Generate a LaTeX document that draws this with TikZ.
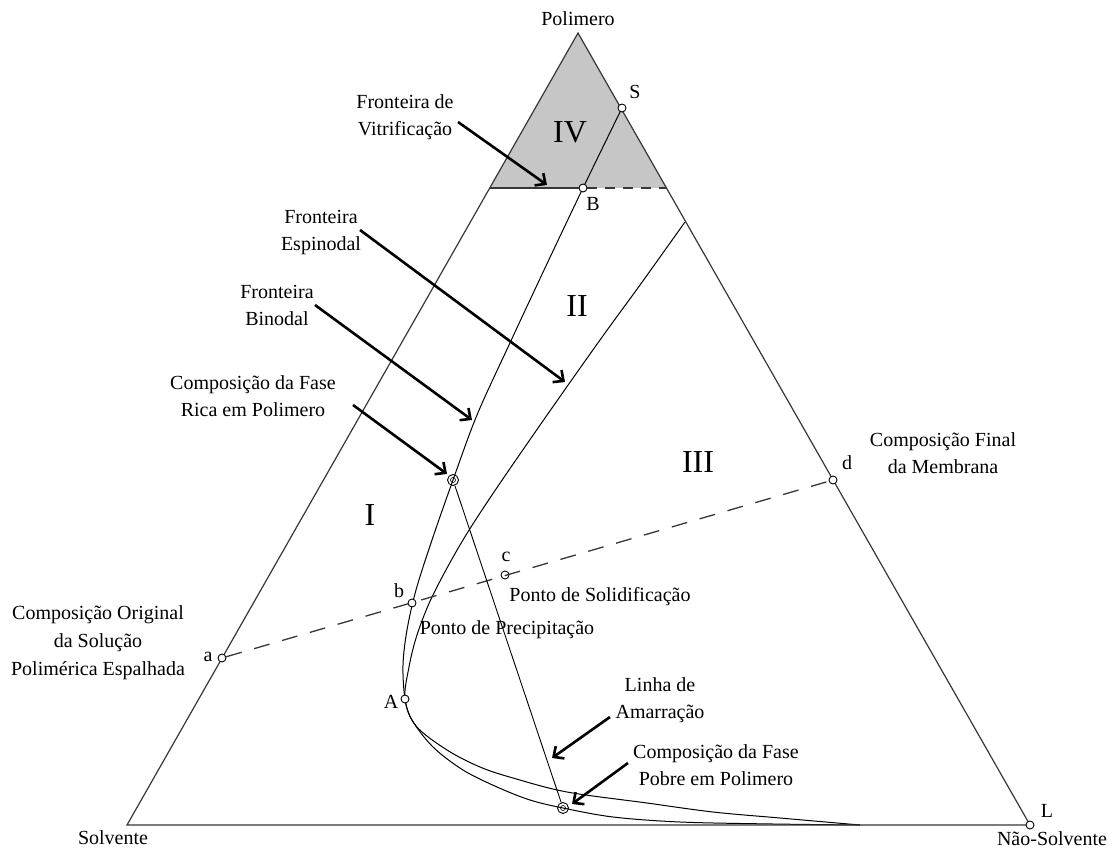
\documentclass[tikz,border=0pt]{standalone}
\usepackage{fontspec}
\setmainfont{Liberation Serif}
\usetikzlibrary{arrows.meta}
\definecolor{edgegray}{RGB}{55,55,55}
\definecolor{glassy}{RGB}{198,198,198}
\begin{document}
\begin{tikzpicture}[x=1pt,y=-1pt,
  side/.style={draw=edgegray, line width=1.2pt},
  curve/.style={draw=black, line width=1pt},
  tieline/.style={draw=black, line width=0.9pt},
  pathline/.style={draw=edgegray, line width=1.3pt, dash pattern=on 16pt off 13pt},
  pointer/.style={draw=black, line width=2.6pt, -{Straight Barb[length=8pt,width=15pt]}},
  lbl/.style={font=\fontsize{20}{27}\selectfont, inner sep=0pt, align=center},
  region/.style={font=\fontsize{32}{36}\selectfont, inner sep=0pt},
  openpt/.style={circle, draw=black, fill=white, line width=0.9pt, minimum size=8pt, inner sep=0pt},
  phasept/.style={circle, draw=black, line width=0.9pt, minimum size=11pt, inner sep=0pt},
  innerpt/.style={circle, draw=black, line width=0.6pt, minimum size=5pt, inner sep=0pt}
]
\useasboundingbox (0,0) rectangle (1116,850);

% vertices of the ternary diagram
\coordinate (Sv) at (127,825);
\coordinate (Ns) at (1030,825);
\coordinate (Po) at (578,33);
\coordinate (gl) at (490,188);
\coordinate (gr) at (667,188);

% glassy region IV
\fill[glassy] (Po) -- (gl) -- (gr) -- cycle;

% binodal boundary
\draw[curve] plot[smooth, tension=0.55] coordinates {(622,108) (583,188) (545,268) (509,345) (477,415) (453,480) (432,540) (416,590) (407,630) (403,665) (405,699) (412,720) (433,747) (463,770) (497,787) (530,800) (563,808) (613,817) (680,822) (773,824) (860,825)};

% spinodal boundary
\draw[curve] plot[smooth, tension=0.55] coordinates {(685,222) (640,285) (600,340) (545,418) (492,495) (460,545) (432,597) (417,635) (409,667) (405,699) (416,726) (447,750) (480,767) (513,778) (567,792) (647,803) (713,812) (780,818) (860,825)};

% triangle sides
\draw[side] (Sv) -- (Po) -- (Ns) -- cycle;

% points on the diagram
\node[openpt] (S) at (622,108) {};
\node[openpt] (B) at (583,188) {};
\node[openpt] (a) at (222,658) {};
\node[openpt] (b) at (412,603) {};
\node[openpt] (c) at (505,575) {};
\node[openpt] (d) at (833,480) {};
\node[openpt] (A) at (405,699) {};
\node[openpt] (L) at (1030,825) {};
\node[phasept] (rich) at (453,480) {};
\node[phasept] (poor) at (563,808) {};
\node[innerpt] (richc) at (rich) {};
\node[innerpt] (poorc) at (poor) {};

% vitrification boundary
\draw[draw=edgegray, line width=1.6pt] (gl) -- (B);
\draw[draw=edgegray, line width=1.6pt, dash pattern=on 10pt off 8pt] (B) -- (gr);

% composition path and tie line
\draw[pathline] (a) -- (d);
\draw[tieline] (rich) -- (poor);

% region numbers
\node[region] (rIV) at (570,132) {IV};
\node[region] (rII) at (577,306) {II};
\node[region] (rIII) at (698,462) {III};
\node[region] (rI) at (370,515) {I};

% labels
\node[lbl] (tPol) at (578,19) {Polimero};
\node[lbl] (tS) at (635,92) {S};
\node[lbl] (tB) at (593,204) {B};
\node[lbl] (ta) at (208,657) {a};
\node[lbl] (tb) at (399,591) {b};
\node[lbl] (tc) at (506,557) {c};
\node[lbl] (td) at (847,463) {d};
\node[lbl] (tA) at (391,702) {A};
\node[lbl] (tL) at (1047,811) {L};
\node[lbl] (tSolv) at (113,838) {Solvente};
\node[lbl] (tNS) at (1052,839) {Não-Solvente};

\node[lbl] (tVit) at (405,117) {Fronteira de\\Vitrificação};
\node[lbl] (tEsp) at (321,233) {Fronteira\\Espinodal};
\node[lbl] (tBin) at (277,305) {Fronteira\\Binodal};
\node[lbl] (tRica) at (253,396) {Composição da Fase\\Rica em Polimero};
\node[lbl, font=\fontsize{20}{28}\selectfont] (tOrig) at (98,643) {Composição Original\\da Solução\\Polimérica Espalhada};
\node[lbl] (tFinal) at (943,453) {Composição Final\\da Membrana};
\node[lbl] (tSol) at (600,597) {Ponto de Solidificação};
\node[lbl] (tPre) at (507,630) {Ponto de Precipitação};
\node[lbl] (tLin) at (660,700) {Linha de\\Amarração};
\node[lbl] (tPob) at (716,765) {Composição da Fase\\Pobre em Polimero};

% pointer arrows
\coordinate (p1s) at (458,122); \coordinate (p1e) at (547,185);
\coordinate (p2s) at (360,230); \coordinate (p2e) at (565,382);
\coordinate (p3s) at (315,305); \coordinate (p3e) at (472,420);
\coordinate (p4s) at (353,405); \coordinate (p4e) at (447,474);
\coordinate (p5s) at (610,717); \coordinate (p5e) at (552,758);
\coordinate (p6s) at (628,763); \coordinate (p6e) at (572,804);
\draw[pointer] (p1s) -- (p1e);
\draw[pointer] (p2s) -- (p2e);
\draw[pointer] (p3s) -- (p3e);
\draw[pointer] (p4s) -- (p4e);
\draw[pointer] (p5s) -- (p5e);
\draw[pointer] (p6s) -- (p6e);
\end{tikzpicture}
\end{document}
